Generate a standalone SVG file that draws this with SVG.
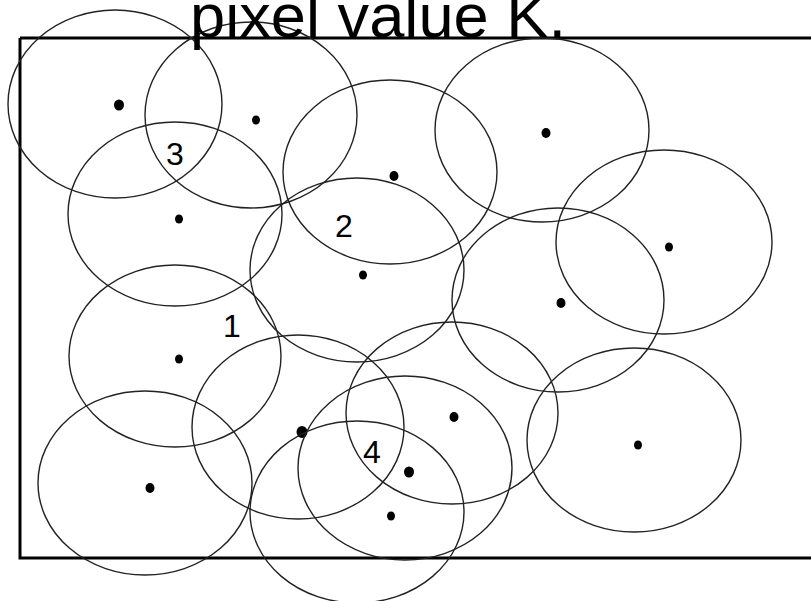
<svg xmlns="http://www.w3.org/2000/svg" width="811" height="601" viewBox="0 0 811 601">
<style>
.c{fill:none;stroke:#222;stroke-width:1.4}
.d{fill:#000}
.n{font-family:"Liberation Sans",Arial,sans-serif;font-size:32px;fill:#000;text-anchor:middle}
.t{font-family:"Liberation Sans",Arial,sans-serif;font-size:62px;fill:#000}
</style>
<rect x="0" y="0" width="811" height="601" fill="#fff"/>
<path d="M20,38 H813 M20,38 V558 H813" fill="none" stroke="#000" stroke-width="3"/>
<g id="nA"><ellipse class="c" cx="115" cy="104" rx="107" ry="94"/><ellipse class="d" cx="119" cy="105" rx="5" ry="5.5"/></g>
<g id="nB"><ellipse class="c" cx="251" cy="115" rx="106" ry="93"/><ellipse class="d" cx="256" cy="120" rx="4" ry="4.5"/></g>
<g id="nC"><ellipse class="c" cx="175" cy="214" rx="107" ry="92"/><ellipse class="d" cx="179" cy="219" rx="4" ry="4.5"/></g>
<g id="nD"><ellipse class="c" cx="390" cy="172" rx="107" ry="92"/><ellipse class="d" cx="394" cy="176" rx="4.5" ry="5"/></g>
<g id="nE"><ellipse class="c" cx="542" cy="130" rx="107" ry="92"/><ellipse class="d" cx="546" cy="133" rx="4.5" ry="5"/></g>
<g id="nF"><ellipse class="c" cx="664" cy="242" rx="108" ry="92"/><ellipse class="d" cx="669" cy="247" rx="4" ry="4.5"/></g>
<g id="nG"><ellipse class="c" cx="357" cy="270" rx="107" ry="92"/><ellipse class="d" cx="363" cy="275" rx="4" ry="4.5"/></g>
<g id="nH"><ellipse class="c" cx="558" cy="300" rx="106" ry="92"/><ellipse class="d" cx="561" cy="303" rx="4.5" ry="5"/></g>
<g id="nI"><ellipse class="c" cx="175" cy="356" rx="106" ry="91"/><ellipse class="d" cx="179" cy="359" rx="4" ry="4.5"/></g>
<g id="nJ"><ellipse class="c" cx="298" cy="427" rx="106" ry="92"/><ellipse class="d" cx="302" cy="432" rx="5.5" ry="6"/></g>
<g id="nK"><ellipse class="c" cx="452" cy="413" rx="106" ry="91"/><ellipse class="d" cx="454" cy="417" rx="4.5" ry="5"/></g>
<g id="nL"><ellipse class="c" cx="405" cy="468" rx="107" ry="92"/><ellipse class="d" cx="409" cy="472" rx="5" ry="5.5"/></g>
<g id="nM"><ellipse class="c" cx="357" cy="512" rx="107" ry="91"/><ellipse class="d" cx="391" cy="516" rx="4" ry="4.5"/></g>
<g id="nN"><ellipse class="c" cx="145" cy="483" rx="107" ry="92"/><ellipse class="d" cx="150" cy="488" rx="4.5" ry="5"/></g>
<g id="nO"><ellipse class="c" cx="634" cy="440" rx="107" ry="92"/><ellipse class="d" cx="638" cy="445" rx="4" ry="4.5"/></g>
<g id="connectors"></g>
<g id="labels">
<text class="n" x="175" y="165">3</text>
<text class="n" x="344" y="237">2</text>
<text class="n" x="232" y="337">1</text>
<text class="n" x="372" y="463">4</text>
</g>
<text class="t" x="190" y="37" textLength="376" lengthAdjust="spacingAndGlyphs">pixel value K.</text>
</svg>
